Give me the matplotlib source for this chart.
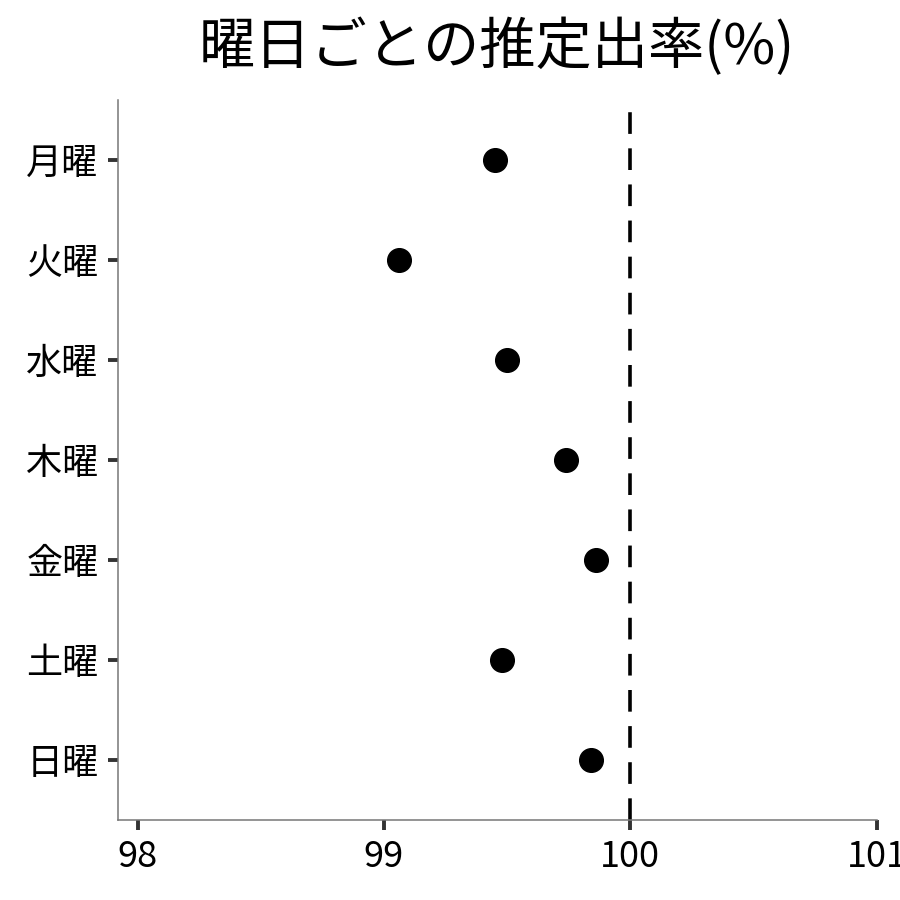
import matplotlib
matplotlib.use("Agg")
import matplotlib.pyplot as plt

plt.rcParams['font.family'] = ['Noto Sans CJK JP', 'DejaVu Sans']

days = ['月曜', '火曜', '水曜', '木曜', '金曜', '土曜', '日曜']
rates = [99.45, 99.06, 99.50, 99.74, 99.86, 99.48, 99.84]
xticks = [98, 99, 100, 101]

fig = plt.figure(figsize=(9, 9), dpi=100)
ax = fig.add_axes([0.131, 0.089, 0.843, 0.800])

ypos = list(range(len(days)))
ax.scatter(rates, ypos, s=290, color='black', zorder=3, clip_on=False)
ax.axvline(100, color='black', lw=2.6, dashes=(6, 4), zorder=2)

ax.set_yticks(ypos)
ax.set_yticklabels(days)
ax.set_ylim(6.6, -0.6)
ax.set_xticks(xticks)
ax.set_xlim(97.92, 101.0)

for s in ['top', 'right']:
    ax.spines[s].set_visible(False)
for s in ['left', 'bottom']:
    ax.spines[s].set_color('#777777')
    ax.spines[s].set_linewidth(1.1)

ax.tick_params(axis='both', length=7, width=2.8, color='#333333',
               labelsize=26, pad=7)
ax.set_title('曜日ごとの推定出率(%)', fontsize=40.5, pad=26)

fig.savefig('out.png', dpi=100)
